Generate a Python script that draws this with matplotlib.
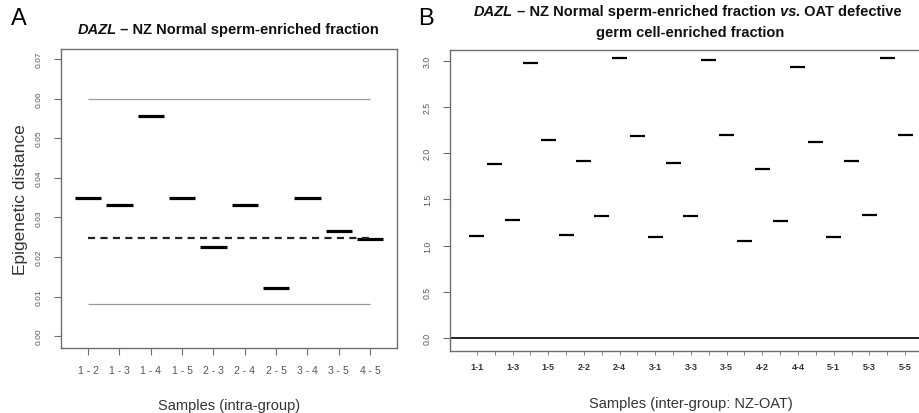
import numpy as np
import matplotlib
matplotlib.use('Agg')
import matplotlib.pyplot as plt

plt.rcParams['font.family'] = ['Liberation Sans', 'DejaVu Sans']

# panel A: intra-group distances
pairs_a = ['1 - 2', '1 - 3', '1 - 4', '1 - 5', '2 - 3', '2 - 4', '2 - 5', '3 - 4', '3 - 5', '4 - 5']
dist_a = [0.0350, 0.0332, 0.0557, 0.0350, 0.0224, 0.0331, 0.0122, 0.0350, 0.0265, 0.0246]
center_a = 0.0247
upper_a = 0.0599
lower_a = 0.0081

# panel B: inter-group distances NZ-OAT
pairs_b = ['1-1', '1-2', '1-3', '1-4', '1-5', '2-1', '2-2', '2-3', '2-4', '2-5',
           '3-1', '3-2', '3-3', '3-4', '3-5', '4-1', '4-2', '4-3', '4-4', '4-5',
           '5-1', '5-2', '5-3', '5-4', '5-5']
dist_b = [1.105, 1.878, 1.272, 2.973, 2.142, 1.117, 1.910, 1.322, 3.027, 2.190,
          1.096, 1.897, 1.324, 3.005, 2.197, 1.046, 1.826, 1.266, 2.933, 2.125,
          1.096, 1.916, 1.334, 3.027, 2.197]

frame = '#6e6e6e'
labcol = '#555555'
half = 0.42

fig = plt.figure(figsize=(9.2, 4.14), dpi=100)
axA = fig.add_axes([0.0663, 0.157, 0.3652, 0.722])
axB = fig.add_axes([0.489, 0.150, 0.524, 0.727])

# ---- A
xa = np.arange(1, len(dist_a) + 1)
axA.hlines(dist_a, xa - half, xa + half, color='black', lw=2.3)
axA.hlines([upper_a, lower_a], xa[0], xa[-1], color='#9a9a9a', lw=0.9)
axA.hlines(center_a, xa[0], xa[-1], color='#222222', lw=1.6, linestyles=(0, (3.2, 2.4)))
axA.set_xlim(0.138, 10.86)
axA.set_ylim(-0.003, 0.0725)
axA.set_xticks(xa)
axA.set_xticklabels(pairs_a, fontsize=7.5, color=labcol)
axA.set_yticks(np.arange(0, 0.071, 0.01))
axA.set_yticklabels(['%.2f' % v for v in np.arange(0, 0.071, 0.01)], fontsize=6,
                    color=labcol, rotation=90, va='center')
axA.tick_params(axis='x', length=5, width=0.8, color=frame, pad=7)
axA.tick_params(axis='y', length=5, width=0.8, color=frame, pad=8)
axA.set_xlabel('Samples (intra-group)', fontsize=10.5, color='#333333', labelpad=17)
axA.set_ylabel('Epigenetic distance', fontsize=12.5, color='#333333', labelpad=6)

# ---- B
xb = np.arange(1, len(dist_b) + 1)
axB.hlines(dist_b, xb - half, xb + half, color='black', lw=1.6)
axB.axhline(0, color='#222222', lw=1.4)
axB.set_xlim(-0.514, 26.51)
axB.set_ylim(-0.14, 3.117)
axB.set_xticks(xb)
axB.set_xticklabels([p if i % 2 == 0 else '' for i, p in enumerate(pairs_b)],
                    fontsize=6.5, fontweight='bold', color='#333333')
yt = np.arange(0, 3.01, 0.5)
axB.set_yticks(yt)
axB.set_yticklabels(['%.1f' % v for v in yt], fontsize=6.3, color=labcol,
                    rotation=90, va='center')
axB.tick_params(axis='x', length=3, width=0.6, color=frame, pad=5)
axB.tick_params(axis='y', length=5, width=0.8, color=frame, pad=8)
axB.set_xlabel('Samples (inter-group: NZ-OAT)', fontsize=10.5, color='#333333', labelpad=18)

for ax in (axA, axB):
    for sp in ax.spines.values():
        sp.set_color(frame)
        sp.set_linewidth(1.0)

# titles with italic pieces
def rich_text(x, y, pieces, size=10.5):
    r = fig.canvas.get_renderer()
    W = fig.bbox.width
    texts = []
    widths = []
    for s, st in pieces:
        t = fig.text(0, y, s, fontsize=size, fontweight='bold', fontstyle=st,
                     va='center', ha='left', color='#111111')
        texts.append(t)
        widths.append(t.get_window_extent(renderer=r).width)
    x0 = x * W - sum(widths) / 2
    for t, w in zip(texts, widths):
        t.set_x(x0 / W)
        x0 += w

rich_text(0.248, 1 - 30 / 414, [('DAZL', 'italic'), (' – NZ Normal sperm-enriched fraction', 'normal')])
rich_text(0.748, 1 - 12 / 414, [('DAZL', 'italic'), (' – NZ Normal sperm-enriched fraction', 'normal'),
                                (' vs.', 'italic'), (' OAT defective', 'normal')])
fig.text(0.750, 1 - 33 / 414, 'germ cell-enriched fraction', fontsize=10.5, fontweight='bold',
         ha='center', va='center', color='#111111')

fig.text(11 / 920, 1 - 19 / 414, 'A', fontsize=17, ha='left', va='center')
fig.text(418 / 920, 1 - 19 / 414, 'B', fontsize=17, ha='left', va='center')

fig.savefig('out.png', dpi=100)
